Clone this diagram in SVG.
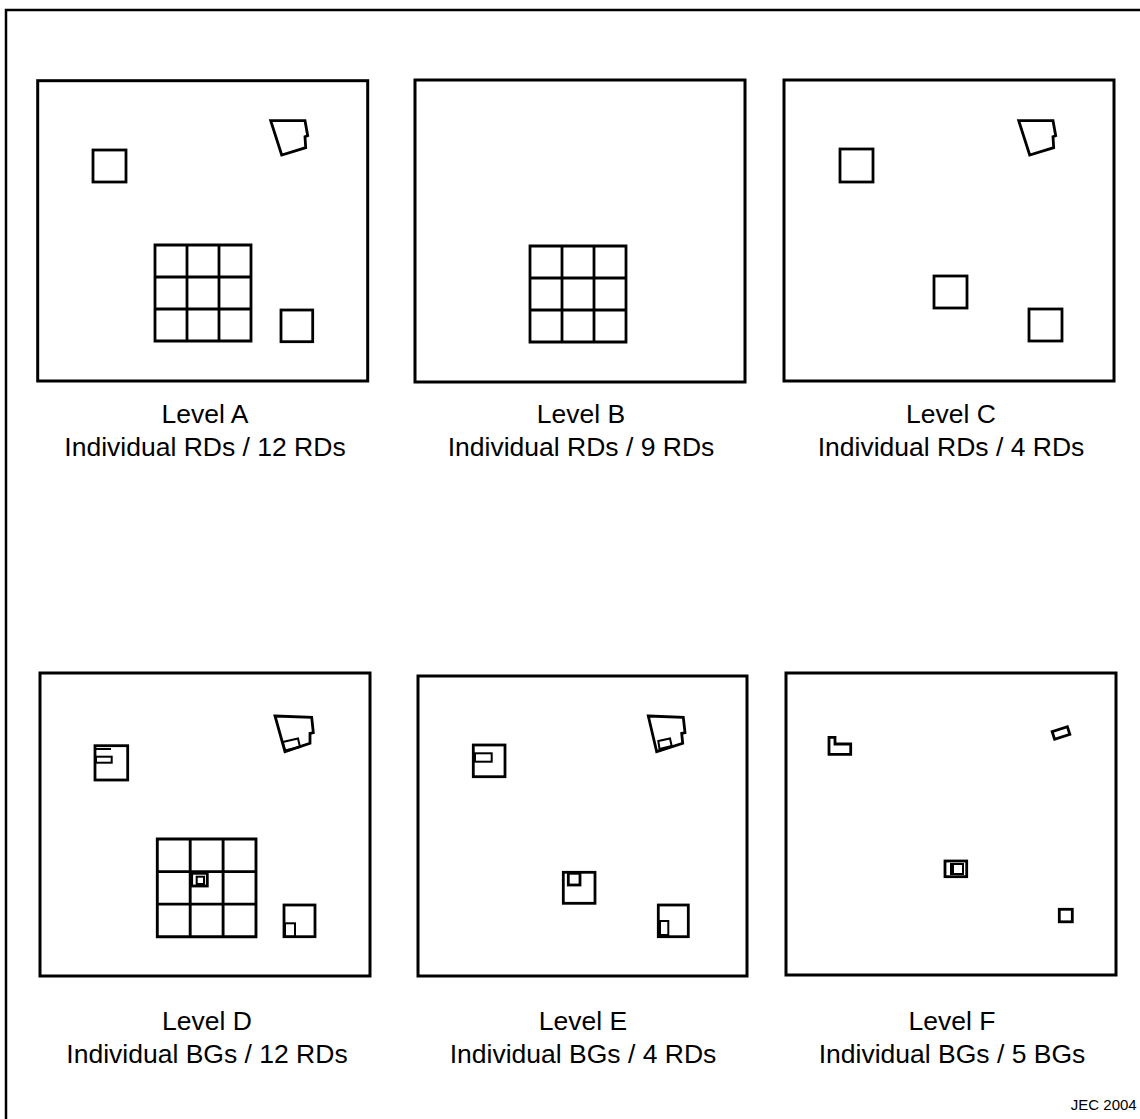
<svg xmlns="http://www.w3.org/2000/svg" width="1140" height="1119" viewBox="0 0 1140 1119">
<style>
.bg{fill:#fff}
.frame{fill:none;stroke:#000;stroke-width:2.5}
.panel{fill:none;stroke:#000;stroke-width:3}
.sh{fill:none;stroke:#000;stroke-width:2.8;stroke-linejoin:miter}
.thin{fill:none;stroke:#000;stroke-width:2}
.lbl{font-family:"Liberation Sans",Arial,sans-serif;font-size:26.5px;fill:#000;text-anchor:middle}
.sig{font-family:"Liberation Sans",Arial,sans-serif;font-size:15px;fill:#000;text-anchor:end}
</style>
<defs>
<path id="grid" d="M0,0H96V96H0Z M32,0V96 M64,0V96 M0,32H96 M0,64H96"/>
</defs>
<rect class="bg" width="1140" height="1119"/>
<path class="frame" d="M6,1119V10H1140"/>

<g id="panelA">
<rect class="panel" x="37.7" y="80.7" width="330" height="300.3"/>
<rect class="sh" x="93" y="150" width="33" height="32"/>
<polygon class="sh" points="270.7,120.7 305,120.7 307.7,135.7 305,136.7 305.7,147.7 281.7,155"/>
<use href="#grid" class="sh" x="155" y="245"/>
<rect class="sh" x="281" y="310" width="31.7" height="31.7"/>
<text class="lbl" x="205" y="423">Level A</text>
<text class="lbl" x="205" y="456">Individual RDs / 12 RDs</text>
</g>

<g id="panelB">
<rect class="panel" x="415" y="80" width="330" height="302"/>
<use href="#grid" class="sh" x="530" y="246"/>
<text class="lbl" x="581" y="423">Level B</text>
<text class="lbl" x="581" y="456">Individual RDs / 9 RDs</text>
</g>

<g id="panelC">
<rect class="panel" x="784" y="80" width="330" height="301"/>
<rect class="sh" x="840" y="149" width="33" height="33"/>
<polygon class="sh" points="1018.7,120.7 1053,120.7 1055.7,135.7 1053,136.7 1053.7,147.7 1029.7,155"/>
<rect class="sh" x="934" y="276" width="33" height="32"/>
<rect class="sh" x="1029" y="309" width="33" height="32"/>
<text class="lbl" x="951" y="423">Level C</text>
<text class="lbl" x="951" y="456">Individual RDs / 4 RDs</text>
</g>

<g id="panelD">
<rect class="panel" x="40" y="673" width="330" height="303"/>
<rect class="sh" x="95" y="745.7" width="32.7" height="34.3"/>
<rect class="thin" x="96" y="756.7" width="15.7" height="6"/>
<line class="thin" x1="96" y1="749" x2="111" y2="749"/>
<polygon class="sh" points="275,716 311.7,717.3 313.3,732.7 310,733.3 310,743.3 285,751.7"/>
<polygon class="thin" points="282.7,742 298,738.5 300,747 285,750.5"/>
<use href="#grid" class="sh" x="0" y="0" transform="translate(157.3,839) scale(1.028,1.018)"/>
<rect class="sh" x="191.7" y="873.3" width="15.6" height="12.7"/>
<rect class="thin" x="196.7" y="876.7" width="7.3" height="7.3"/>
<rect class="sh" x="284" y="905" width="31" height="31.7"/>
<rect class="thin" x="285" y="923.3" width="10" height="13.4"/>
<text class="lbl" x="207" y="1030">Level D</text>
<text class="lbl" x="207" y="1063">Individual BGs / 12 RDs</text>
</g>

<g id="panelE">
<rect class="panel" x="418" y="676" width="329" height="300"/>
<rect class="sh" x="473.3" y="745" width="31.7" height="31.7"/>
<rect class="thin" x="475" y="753.3" width="16.7" height="8.4"/>
<polygon class="sh" points="648.3,716 683.3,717.3 685,732.7 681.7,733.3 682.7,743.3 656.7,751.7"/>
<polygon class="thin" points="658.3,741 670,738.5 671.7,746 659.5,749"/>
<rect class="sh" x="563.3" y="872.3" width="31.7" height="31"/>
<rect class="sh" x="568.3" y="873.3" width="11.7" height="11.7"/>
<rect class="sh" x="658.3" y="905" width="30" height="31.7"/>
<rect class="thin" x="660" y="921" width="8.3" height="14"/>
<text class="lbl" x="583" y="1030">Level E</text>
<text class="lbl" x="583" y="1063">Individual BGs / 4 RDs</text>
</g>

<g id="panelF">
<rect class="panel" x="786" y="673" width="330" height="302"/>
<polygon class="sh" points="829,737.3 835,737.3 835,744 850.7,744 850.7,754.3 829,754.3"/>
<rect class="sh" x="1053" y="729" width="16" height="8" transform="rotate(-18 1061 733)"/>
<rect class="sh" x="945" y="861" width="21.7" height="15.7"/>
<rect class="thin" x="951" y="864" width="12" height="10"/>
<line class="thin" x1="953" y1="864" x2="953" y2="874"/>
<rect class="sh" x="1059.3" y="909.3" width="13" height="12.5"/>
<text class="lbl" x="952" y="1030">Level F</text>
<text class="lbl" x="952" y="1063">Individual BGs / 5 BGs</text>
</g>

<text class="sig" x="1136.7" y="1110">JEC 2004</text>
</svg>
